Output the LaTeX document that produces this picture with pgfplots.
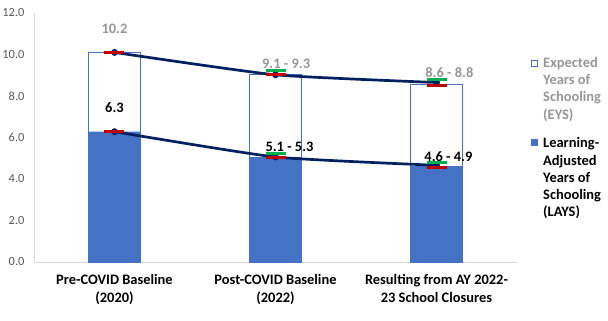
\documentclass[border=0pt]{standalone}
\usepackage{pgfplots}
\pgfplotsset{compat=1.18}
\usepackage{fontspec}
\setmainfont{Carlito}
\definecolor{barblue}{RGB}{68,114,196}
\definecolor{navy}{RGB}{0,32,96}
\definecolor{mred}{RGB}{192,0,0}
\definecolor{mgreen}{RGB}{0,176,80}
\definecolor{lblgray}{RGB}{150,150,150}
\definecolor{tickgray}{RGB}{89,89,89}
\definecolor{axgray}{RGB}{217,217,217}
\newcommand{\emptysq}{{\setlength{\fboxsep}{0pt}\setlength{\fboxrule}{0.8bp}\raisebox{1.5bp}{\fcolorbox{barblue}{white}{\rule{0pt}{5.4bp}\rule{5.4bp}{0pt}}}}}
\newcommand{\fullsq}{\raisebox{1.5bp}{\textcolor{barblue}{\rule{7bp}{7bp}}}}
\begin{document}
\begin{tikzpicture}
\useasboundingbox (-34bp,-59bp) rectangle (574bp,262bp);
\begin{axis}[at={(0,0)}, anchor=south west, scale only axis,
  width=483bp, height=249bp, clip=false,
  xmin=-0.5, xmax=2.5, ymin=0, ymax=12,
  axis x line*=bottom, axis y line*=left,
  axis line style={-, axgray, line width=0.8bp},
  xtick={0,1,2},
  xticklabels={{Pre-COVID Baseline\\(2020)},{Post-COVID Baseline\\(2022)},{Resulting from AY 2022-\\23 School Closures}},
  xticklabel style={align=center, font=\bfseries\fontsize{14.5}{18.3}\selectfont, text=black, yshift=-9bp},
  ytick={0,2,4,6,8,10,12},
  major tick length=0pt,
  /pgf/number format/assume math mode=true,
  yticklabel={\pgfmathprintnumber[fixed,fixed zerofill,precision=1]{\tick}},
  yticklabel style={font=\fontsize{12.5}{14}\selectfont, text=tickgray, xshift=-6bp},
  ytick style={draw=none}, xtick style={draw=none},
]
\addplot[ybar, bar width=52bp, bar shift=0pt, draw=barblue, fill=white, line width=0.8bp]
  coordinates {(0,10.1) (1,9.05) (2,8.57)};
\addplot[ybar, bar width=52bp, bar shift=0pt, draw=none, fill=barblue]
  coordinates {(0,6.28) (1,5.05) (2,4.62)};
\addplot[navy, line width=2.7bp, smooth, tension=0.3, mark=*, mark size=2bp]
  coordinates {(0,10.1) (1,9.02) (2,8.65)};
\addplot[navy, line width=2.7bp, smooth, tension=0.3, mark=*, mark size=2bp]
  coordinates {(0,6.28) (1,5.06) (2,4.66)};
\addplot[only marks, mark=-, mark size=10bp, mark options={mred, line width=3.2bp}]
  coordinates {(0,10.1) (1,9.02) (2,8.52) (0,6.3) (1,5.02) (2,4.54)};
\addplot[only marks, mark=-, mark size=10bp, mark options={mgreen, line width=3.2bp}]
  coordinates {(1,9.22) (2,8.8) (1,5.24) (2,4.81)};
\begin{scope}[every node/.style={font=\bfseries\fontsize{14.5}{17}\selectfont}]
\node[text=lblgray] at (axis cs:0,11.24) {10.2};
\node[text=black] at (axis cs:0,7.43) {6.3};
\node[text=lblgray] at (axis cs:1.066,9.54) {9.1 - 9.3};
\node[text=black] at (axis cs:1.087,5.56) {5.1 - 5.3};
\node[text=lblgray] at (axis cs:2.08,9.11) {8.6 - 8.8};
\node[text=black] at (axis cs:2.074,5.08) {4.6 - 4.9};
\end{scope}
\node[anchor=north west, inner sep=0pt, font=\bfseries\fontsize{14.5}{17.3}\selectfont]
  at (rel axis cs:1.029,0.831) {%
  \begin{tabular}{@{}l@{\hspace{5bp}}l@{}}
  \emptysq & \textcolor{lblgray}{Expected}\\
   & \textcolor{lblgray}{Years of}\\
   & \textcolor{lblgray}{Schooling}\\
   & \textcolor{lblgray}{(EYS)}\\[11.7bp]
  \fullsq & Learning-\\
   & Adjusted\\
   & Years of\\
   & Schooling\\
   & (LAYS)
  \end{tabular}};
\end{axis}
\end{tikzpicture}
\end{document}
